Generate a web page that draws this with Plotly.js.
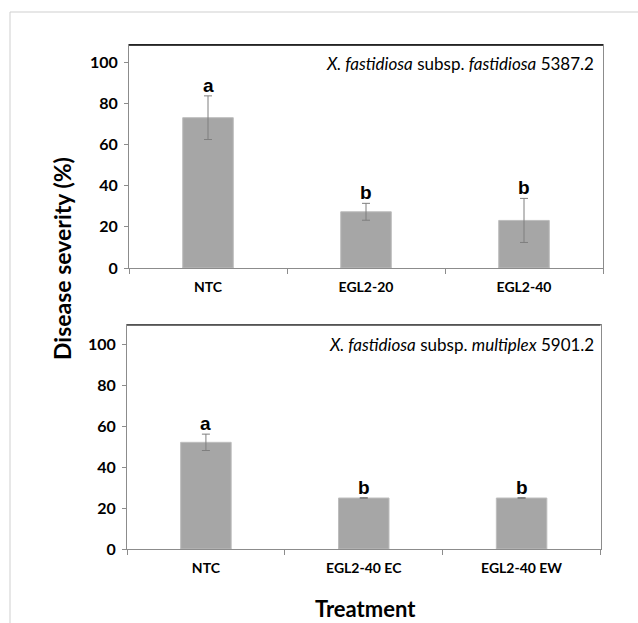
<!DOCTYPE html>
<html>
<head>
<meta charset="utf-8">
<script src="https://cdn.plot.ly/plotly-3.0.1.min.js"></script>
<style>html,body{margin:0;padding:0;background:#fff;}#chart{width:638px;height:623px;}</style>
</head>
<body>
<div id="chart"></div>
<script>
// ---- data ----
const catsTop = ["NTC", "EGL2-20", "EGL2-40"];
const valsTop = [73.0, 27.3, 23.1];
const errTop = [10.6, 4.1, 10.7];
const lettersTop = ["a", "b", "b"];
const labelTop = "<i>X. fastidiosa</i> subsp. <i>fastidiosa</i> 5387.2";

const catsBot = ["NTC", "EGL2-40 EC", "EGL2-40 EW"];
const valsBot = [52.1, 24.9, 24.9];
const errBot = [4.0, 0.2, 0.2];
const lettersBot = ["a", "b", "b"];
const labelBot = "<i>X. fastidiosa</i> subsp. <i>multiplex</i> 5901.2";

const yTicks = [0, 20, 40, 60, 80, 100];
const yTitle = "Disease severity (%)";
const xTitle = "Treatment";

// ---- styling ----
const W = 638, H = 623;
const px = v => v / W;
const py = v => 1 - v / H;
const barColor = "#a6a6a6";
const axisGray = "#8c8c8c";
const FONT = "Lato, 'Open Sans', sans-serif";
const tickFont = {family: FONT, size: 16, color: "#000", weight: "bold"};
const catFont = {family: FONT, size: 14, color: "#000", weight: "bold"};

function bar(x, y, e, xa, ya) {
  return {
    type: "bar", x: x, y: y, xaxis: xa, yaxis: ya,
    width: 0.32,
    marker: {color: barColor, line: {color: "#bdbdbd", width: 1}},
    error_y: {type: "data", array: e, visible: true, color: "#7f7f7f", thickness: 1, width: 4},
    hoverinfo: "skip", showlegend: false
  };
}

const data = [
  bar(catsTop, valsTop, errTop, "x", "y"),
  bar(catsBot, valsBot, errBot, "x2", "y2")
];

function xaxis(domain, anchor) {
  return {
    domain: domain, anchor: anchor, type: "category",
    showline: true, linecolor: axisGray, linewidth: 1, mirror: true,
    ticks: "outside", ticklen: 5, tickcolor: axisGray, tickson: "boundaries",
    tickfont: catFont, ticklabelstandoff: 6,
    showgrid: false, zeroline: false, fixedrange: true
  };
}
function yaxis(domain, anchor, top) {
  return {
    domain: domain, anchor: anchor, range: [0, top],
    tickvals: yTicks, ticktext: yTicks.map(String),
    showline: true, linecolor: axisGray, linewidth: 1, mirror: true,
    ticks: "outside", ticklen: 4, tickcolor: axisGray,
    tickfont: tickFont, ticklabelstandoff: 3,
    showgrid: false, zeroline: false, fixedrange: true
  };
}

const topDom = {x: [px(129), px(603)], y: [py(268), py(45)]};
const botDom = {x: [px(127), px(600.5)], y: [py(549), py(325)]};

const letterAnn = (cats, vals, errs, letters, xr, yr) => cats.map((c, i) => ({
  x: c, y: vals[i] + errs[i], xref: xr, yref: yr,
  text: letters[i], showarrow: false, yanchor: "bottom", yshift: -2,
  font: {family: "'Liberation Sans', Arial, sans-serif", size: 19, color: "#000", weight: "bold"}
}));

const annotations = [
  ...letterAnn(catsTop, valsTop, errTop, lettersTop, "x", "y"),
  ...letterAnn(catsBot, valsBot, errBot, lettersBot, "x2", "y2"),
  {xref: "paper", yref: "paper", x: px(596), y: py(63), xanchor: "right", yanchor: "middle",
   text: labelTop, showarrow: false, font: {family: FONT, size: 17, color: "#000"}},
  {xref: "paper", yref: "paper", x: px(596), y: py(344), xanchor: "right", yanchor: "middle",
   text: labelBot, showarrow: false, font: {family: FONT, size: 17, color: "#000"}},
  {xref: "paper", yref: "paper", x: px(62), y: py(258), xanchor: "center", yanchor: "middle",
   textangle: -90, text: yTitle, showarrow: false,
   font: {family: FONT, size: 23, color: "#000", weight: "bold"}},
  {xref: "paper", yref: "paper", x: px(365), y: 0, xanchor: "center", yanchor: "bottom",
   text: xTitle, showarrow: false, borderpad: 0,
   font: {family: FONT, size: 22, color: "#000", weight: "bold"}}
];

const shapes = [
  // outer frame
  {type: "line", xref: "paper", yref: "paper", x0: px(10), x1: 1, y0: py(12), y1: py(12), line: {color: "#cfcfcf", width: 1}},
  {type: "line", xref: "paper", yref: "paper", x0: px(10), x1: px(10), y0: py(12), y1: 0, line: {color: "#cfcfcf", width: 1}},
  // dark top borders of plot areas
  {type: "line", xref: "paper", yref: "paper", x0: topDom.x[0], x1: topDom.x[1], y0: topDom.y[1], y1: topDom.y[1], line: {color: "#000", width: 1.5}},
  {type: "line", xref: "paper", yref: "paper", x0: botDom.x[0], x1: botDom.x[1], y0: botDom.y[1], y1: botDom.y[1], line: {color: "#404040", width: 1.5}}
];

const layout = {
  width: W, height: H,
  margin: {l: 0, r: 0, t: 0, b: 0},
  paper_bgcolor: "#fff", plot_bgcolor: "#fff",
  showlegend: false,
  xaxis: xaxis(topDom.x, "y"),
  yaxis: yaxis(topDom.y, "x", 108.3),
  xaxis2: xaxis(botDom.x, "y2"),
  yaxis2: yaxis(botDom.y, "x2", 109.4),
  annotations: annotations,
  shapes: shapes
};

Plotly.newPlot("chart", data, layout, {staticPlot: true, displayModeBar: false});
</script>
</body>
</html>
